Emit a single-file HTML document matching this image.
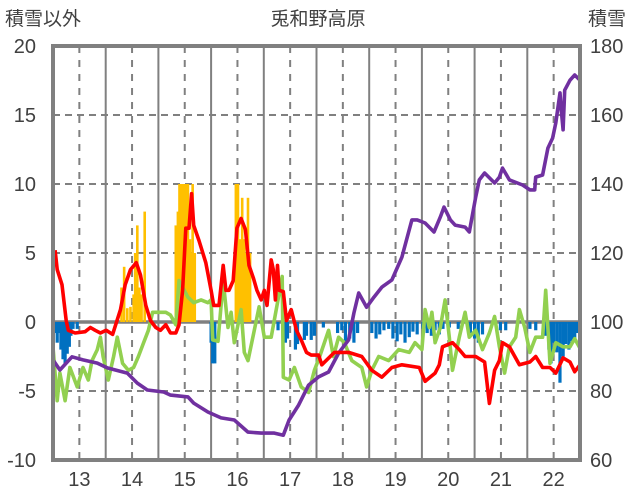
<!DOCTYPE html>
<html><head><meta charset="utf-8">
<style>
html,body{margin:0;padding:0;background:#fff;}
svg{display:block;font-family:"Liberation Sans","Noto Sans CJK JP",sans-serif;}
</style></head>
<body>
<svg id="chart" width="636" height="501" viewBox="0 0 636 501">
<g id="grid"></g>
<g id="bars"></g>
<g id="lines"></g>
<g id="axes"></g>
<text x="5" y="25" font-size="19" fill="#404040">積雪以外</text>
<text x="318" y="25" font-size="19" fill="#404040" text-anchor="middle">兎和野高原</text>
<text x="588" y="25" font-size="19" fill="#404040">積雪</text>
</svg>
<script>
const redT=[13.04,13.08,13.17,13.25,13.29,13.42,13.61,13.71,13.80,13.90,14.01,14.13,14.28,14.37,14.47,14.58,14.66,14.76,14.85,14.95,15.04,15.14,15.23,15.33,15.39,15.46,15.52,15.58,15.63,15.67,15.77,15.90,16.00,16.05,16.15,16.23,16.28,16.34,16.42,16.49,16.57,16.65,16.72,16.80,16.87,16.95,17.01,17.06,17.14,17.18,17.22,17.26,17.29,17.37,17.43,17.52,17.62,17.71,17.81,17.90,18.04,18.10,18.34,18.61,18.86,19.05,19.24,19.43,19.62,19.95,20.06,20.25,20.33,20.39,20.58,20.71,20.82,21.02,21.19,21.28,21.38,21.47,21.53,21.66,21.85,22.05,22.16,22.29,22.43,22.54,22.68,22.81,22.90,23.00];
const redV=[5.2,3.8,2.7,0.1,-0.6,-0.8,-0.7,-0.4,-0.6,-0.8,-0.6,-0.9,0.9,2.7,3.8,4.3,3.4,1.2,0.1,-0.4,-0.6,-0.2,-0.8,-0.8,-0.2,2.3,6.8,6.8,9.3,7.0,5.9,4.3,2.3,1.2,1.2,4.1,2.3,2.3,3.0,6.8,7.5,6.7,4.1,3.2,2.3,1.6,2.3,1.2,4.5,3.8,1.6,4.1,2.3,2.2,0.1,0.9,-0.6,-1.3,-2.2,-2.4,-2.4,-3.1,-2.2,-2.2,-2.5,-3.5,-4.0,-3.3,-3.1,-3.3,-4.3,-3.7,-3.1,-1.8,-1.5,-2.0,-2.5,-2.5,-2.9,-5.9,-3.5,-2.8,-1.5,-1.8,-3.1,-2.9,-2.5,-3.3,-3.3,-3.7,-2.6,-2.9,-3.6,-3.1];
const greenT=[13.00,13.08,13.13,13.23,13.32,13.46,13.57,13.67,13.74,13.84,13.90,13.95,14.05,14.15,14.22,14.32,14.43,14.53,14.62,14.72,14.81,14.89,15.04,15.14,15.23,15.33,15.39,15.56,15.67,15.81,15.94,16.00,16.03,16.13,16.23,16.32,16.38,16.44,16.57,16.63,16.70,16.82,16.91,17.01,17.14,17.27,17.35,17.37,17.48,17.58,17.71,17.85,17.96,18.06,18.23,18.32,18.42,18.53,18.67,18.86,18.95,19.05,19.18,19.37,19.56,19.76,19.87,20.00,20.06,20.14,20.19,20.25,20.35,20.44,20.52,20.58,20.71,20.82,20.90,21.02,21.15,21.28,21.38,21.47,21.57,21.66,21.78,21.85,21.95,22.05,22.16,22.29,22.35,22.43,22.54,22.68,22.81,22.90,23.00];
const greenV=[-1.8,-5.7,-3.7,-5.7,-3.3,-4.7,-3.3,-4.2,-2.8,-2.0,-1.1,-2.5,-4.2,-2.5,-1.1,-3.0,-3.5,-3.3,-2.5,-1.5,-0.6,0.7,0.7,0.7,0.5,-0.2,3.0,1.8,1.4,1.6,1.4,1.6,-1.3,-1.4,3.0,-0.4,0.7,-1.5,0.9,-2.2,-2.8,-0.6,1.1,-1.1,-1.1,1.6,3.3,-4.0,-4.2,-3.3,-4.7,-5.1,-3.5,-2.5,-0.6,-2.5,-1.1,-1.5,-2.8,-3.3,-4.7,-3.5,-2.5,-2.8,-2.0,-2.2,-1.5,-2.0,0.9,-0.4,0.7,-1.5,-0.4,1.6,-1.1,-3.5,-1.1,0.7,-1.1,-0.6,-2.0,-0.8,0.4,-1.8,-3.7,-1.8,-1.1,0.9,-0.4,-2.2,-1.1,-1.1,2.3,-3.0,-1.5,-1.8,-1.8,-1.2,-1.9];
const snowT=[13.00,13.13,13.36,13.57,13.84,14.03,14.41,14.60,14.79,15.10,15.23,15.56,15.67,15.94,16.19,16.44,16.70,16.95,17.20,17.37,17.48,17.66,17.85,18.04,18.23,18.42,18.61,18.71,18.80,18.95,19.09,19.24,19.43,19.62,19.81,19.91,20.06,20.23,20.35,20.42,20.54,20.63,20.82,20.90,21.02,21.09,21.19,21.38,21.47,21.53,21.66,21.91,22.05,22.14,22.16,22.29,22.39,22.48,22.54,22.62,22.64,22.68,22.71,22.81,22.90,23.00];
const snowV=[89.0,86.1,89.9,89.0,88.1,86.7,85.2,82.3,80.3,79.7,78.8,78.3,76.5,73.9,72.2,71.6,68.1,67.8,67.8,67.2,71.6,75.9,81.7,84.1,85.5,91.0,94.8,102.6,108.4,104.3,107.2,110.1,112.2,118.8,129.6,129.6,128.7,126.1,130.4,133.3,129.6,128.1,127.5,126.1,136.2,141.2,143.2,140.3,142.0,144.6,141.2,139.7,138.3,138.3,142.0,142.6,150.4,153.3,157.7,166.4,162.3,155.7,167.2,170.1,171.6,170.1];
const yelT=[14.30,14.35,14.41,14.47,14.53,14.56,14.60,14.64,14.68,14.74,15.33,15.37,15.40,15.44,15.48,15.52,15.56,15.60,15.63,15.65,15.69,16.47,16.51,16.55,16.59,16.63,16.66,16.70,16.74];
const yelV=[2.5,4,1,1.1,2,5,7,2.5,2,8,7,8,10,10,10,10,10,6,5,10,5,10,10,6,9,6,5,9,5];
const bluT=[13.04,13.08,13.11,13.15,13.19,13.23,13.27,13.31,13.34,13.38,13.46,16.00,16.03,16.07,17.27,17.41,17.45,17.60,17.64,17.77,17.81,17.90,17.96,18.13,18.40,18.48,18.55,18.63,18.71,18.78,19.05,19.13,19.20,19.28,19.37,19.45,19.53,19.60,19.68,19.76,19.83,19.91,20.02,20.10,20.18,20.25,20.33,20.40,20.52,20.69,20.92,21.00,21.07,21.15,21.49,21.59,22.05,22.16,22.35,22.41,22.45,22.50,22.56,22.62,22.68,22.73,22.79,22.85,22.90,22.94];
const bluV=[-0.8,-1.5,-0.8,-2,-2.7,-3.1,-2.3,-1.8,-1,-0.5,-0.5,-1.5,-3,-3,-0.6,-1.5,-1.2,-2,-1.6,-1.3,-1,-1.3,-1.0,-0.4,-0.8,-0.6,-1.5,-1.2,-1.5,-0.8,-0.8,-1.2,-0.9,-0.6,-0.5,-1.2,-1.4,-0.9,-1.5,-1.1,-0.7,-0.9,-0.5,-0.8,-1.0,-0.6,-0.9,-0.5,-0.4,-0.5,-0.8,-1.2,-1.5,-0.9,-0.6,-0.6,-0.5,-0.6,-1.0,-2.0,-3.0,-1.5,-2.2,-4.4,-2.5,-1.6,-2.0,-1.4,-1.2,-0.8];
const leftTicks=[20,15,10,5,0,-5,-10];
const rightTicks=[180,160,140,120,100,80,60];
const yearLabels=["13","14","15","16","17","18","19","20","21","22"];

const X0=53,X1=580,YT=46,YB=460;
const tMin=13,tMax=23;
function xs(t){return X0+(t-tMin)*(X1-X0)/(tMax-tMin);}
function yl(v){return YB-(v+10)*(YB-YT)/30;}
function yr(v){return YB-(v-60)*(YB-YT)/120;}
const NS="http://www.w3.org/2000/svg";
function mk(tag,attrs,parent){const e=document.createElementNS(NS,tag);for(const k in attrs)e.setAttribute(k,attrs[k]);parent.appendChild(e);return e;}
const grid=document.getElementById('grid'),bars=document.getElementById('bars'),lines=document.getElementById('lines'),axes=document.getElementById('axes');

// horizontal gridlines
leftTicks.forEach(v=>{if(v===0||v===20||v===-10)return;
 const l=mk('line',{x1:X0,x2:X1,y1:yl(v),y2:yl(v),stroke:'#808080','stroke-width':2,'stroke-dasharray':'7,5'},grid);
 
 });
// vertical gridlines
for(let i=0;i<yearLabels.length;i++){
 const xm=xs(tMin+i+0.5);
 const d=mk('line',{x1:xm,x2:xm,y1:YT,y2:YB,stroke:'#808080','stroke-width':2,'stroke-dasharray':'7,7'},grid);
 
 
 if(i>0){const xb=xs(tMin+i);
 const s=mk('line',{x1:xb,x2:xb,y1:YT,y2:YB,stroke:'#808080','stroke-width':2},grid);
 
 }
 const tl=mk('text',{x:xm,y:486,'font-size':20,fill:'#404040','text-anchor':'middle'},axes);
 tl.textContent=yearLabels[i];
 
 
}
// bars
yelT.forEach((t,i)=>{const y0=yl(0),y1=yl(yelV[i]);
 const r=mk('rect',{x:xs(t)-1.3,y:y1,width:2.6,height:y0-y1,fill:'#ffc000'},bars);
 
 });
bluT.forEach((t,i)=>{const y0=yl(0),y1=yl(bluV[i]);
 const r=mk('rect',{x:xs(t)-1.6,y:y0,width:3.2,height:y1-y0,fill:'#0070c0'},bars);
 
 });
// zero line
const z=mk('line',{x1:X0,x2:X1,y1:yl(0),y2:yl(0),stroke:'#808080','stroke-width':3.5},grid);


// lines
function poly(T,V,f,color,name){
 const p=mk('polyline',{points:T.map((t,i)=>xs(t).toFixed(1)+','+f(V[i]).toFixed(1)).join(' '),fill:'none',stroke:color,'stroke-width':3.6,'stroke-linejoin':'round'},lines);
 
 }
poly(greenT,greenV,yl,'#92d050','green-series-line');
poly(snowT,snowV,yr,'#7030a0','snow-depth-line');
poly(redT,redV,yl,'#ff0000','red-series-line');
// frame
const fr=mk('rect',{x:X0,y:YT,width:X1-X0,height:YB-YT,fill:'none',stroke:'#808080','stroke-width':4},axes);


leftTicks.forEach(v=>{const t=mk('text',{x:36,y:yl(v)+7,'font-size':20,fill:'#404040','text-anchor':'end'},axes);
 t.textContent=v;
 
 });
rightTicks.forEach(v=>{const t=mk('text',{x:590,y:yr(v)+7,'font-size':20,fill:'#404040'},axes);
 t.textContent=v;
 
 });
</script>
</body></html>
